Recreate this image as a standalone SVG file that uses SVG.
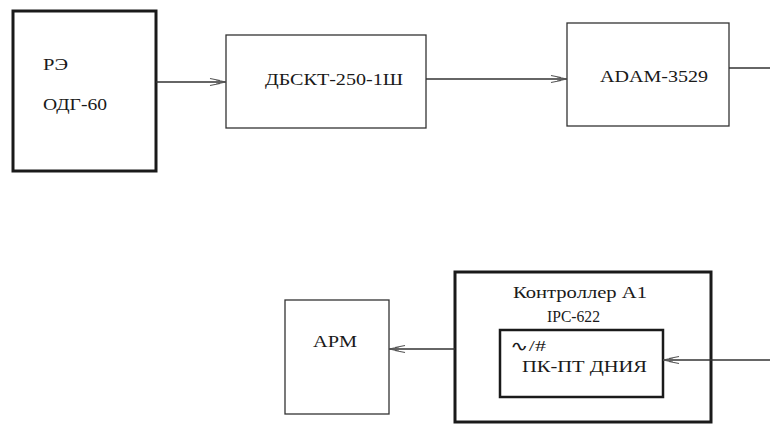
<svg xmlns="http://www.w3.org/2000/svg" width="770" height="425" viewBox="0 0 770 425">
<style>
.thick{fill:none;stroke:#1a1a1a;stroke-width:3}
.thin{fill:none;stroke:#333;stroke-width:1.3}
.mid{fill:none;stroke:#1a1a1a;stroke-width:2.5}
.ln{fill:none;stroke:#333;stroke-width:1.3}
</style>
<defs>
<marker id="ah" viewBox="0 0 20 10" refX="20" refY="5" markerWidth="20" markerHeight="10" markerUnits="userSpaceOnUse" orient="auto">
<path d="M4,1.5 L14,3.5 M4,8.5 L14,6.5 M10,3 L20,5 L10,7" fill="none" stroke="#555" stroke-width="1.1"/>
</marker>
</defs>
<rect width="770" height="425" fill="#fff"/>
<g font-family="Liberation Serif, Times New Roman, serif" font-size="16" fill="#1a1a1a">
<g id="re">
<rect class="thick" x="13" y="11" width="143" height="160"/>
<text x="43" y="70" textLength="25" lengthAdjust="spacingAndGlyphs">РЭ</text>
<text x="43" y="110" textLength="64" lengthAdjust="spacingAndGlyphs">ОДГ-60</text>
</g>
<g id="dbskt">
<rect class="thin" x="226" y="35" width="200" height="93"/>
<text x="265" y="85" textLength="138" lengthAdjust="spacingAndGlyphs">ДБСКТ-250-1Ш</text>
</g>
<g id="adam">
<rect class="thin" x="567" y="23" width="162" height="103"/>
<text x="600" y="82" textLength="108" lengthAdjust="spacingAndGlyphs">ADAM-3529</text>
</g>
<g id="arm">
<rect class="thin" x="285" y="300" width="104" height="114"/>
<text x="313" y="347" textLength="44" lengthAdjust="spacingAndGlyphs">АРМ</text>
</g>
<g id="controller">
<rect class="thick" x="455" y="272" width="256" height="150"/>
<text x="513" y="298" textLength="134" lengthAdjust="spacingAndGlyphs">Контроллер А1</text>
<text x="547" y="322" textLength="53" lengthAdjust="spacingAndGlyphs">IPC-622</text>
</g>
<g id="pkpt">
<rect class="mid" x="500" y="330" width="163" height="67"/>
<text x="510" y="351" font-size="14" textLength="36" lengthAdjust="spacingAndGlyphs">∿/#</text>
<text x="522" y="372" textLength="125" lengthAdjust="spacingAndGlyphs">ПК-ПТ ДНИЯ</text>
</g>
</g>
<g id="connectors">
<line class="ln" x1="156" y1="82" x2="226" y2="82" marker-end="url(#ah)"/>
<line class="ln" x1="426" y1="79" x2="567" y2="79" marker-end="url(#ah)"/>
<line class="ln" x1="729" y1="68" x2="770" y2="68"/>
<line class="ln" x1="455" y1="349" x2="389" y2="349" marker-end="url(#ah)"/>
<line class="ln" x1="770" y1="360" x2="663" y2="360" marker-end="url(#ah)"/>
</g>
</svg>
